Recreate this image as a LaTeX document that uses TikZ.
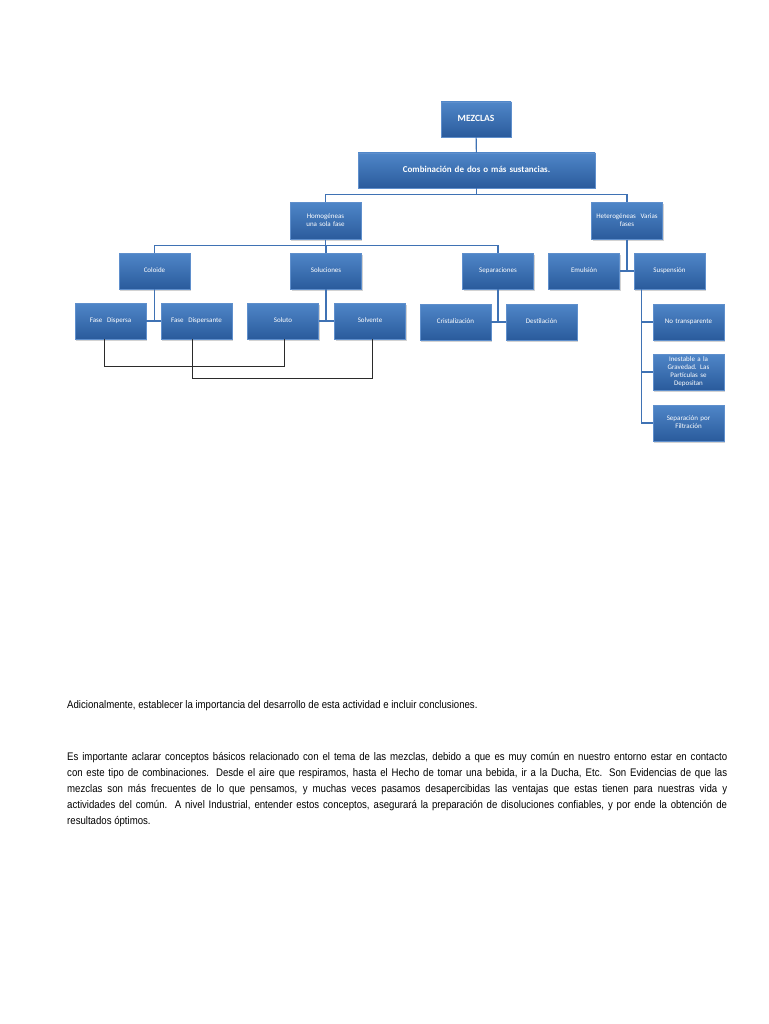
\documentclass[tikz,border=0pt]{standalone}
\usepackage{fontspec}
\setmainfont{Liberation Sans}
\newfontfamily\boxfont{Carlito}
\newfontfamily\narrowfont[FakeStretch=0.875]{Liberation Sans}
\usepackage{tikz}
\usetikzlibrary{shadows}
\definecolor{boxtop}{HTML}{4F86C8}
\definecolor{boxbot}{HTML}{2A5B9C}
\definecolor{boxline}{HTML}{5F8FCC}
\definecolor{linkblue}{HTML}{3F72B4}
\definecolor{linkdark}{HTML}{2B2B2B}
\tikzset{mybox/.style={rectangle, top color=boxtop, bottom color=boxbot, draw=boxline, line width=0.5pt,
    minimum width=71pt, minimum height=36pt, inner sep=1pt, text width=68pt, align=center,
    text=white, font=\boxfont\fontsize{7}{8.4}\selectfont,
    execute at begin node=\strut, execute at end node=\strut,
    drop shadow={opacity=0.35, shadow xshift=1pt, shadow yshift=-1.5pt}},
  link/.style={draw=linkblue, line width=1.1pt},
  crosslink/.style={draw=linkdark, line width=0.8pt},
  textline/.style={anchor=west, inner sep=0pt, font=\narrowfont\fontsize{11}{12}\selectfont}}

\begin{document}
\begin{tikzpicture}[x=1pt, y=-1pt]
    \useasboundingbox[fill=white] (0,0) rectangle (768,1024);

    \node[mybox, minimum width=70pt, minimum height=35pt, font=\boxfont\bfseries\fontsize{9.5}{11}\selectfont] (mezclas) at (476,119.5) {MEZCLAS};
    \node[mybox, minimum width=237pt, minimum height=35pt, text width=230pt, font=\boxfont\bfseries\fontsize{9}{11}\selectfont] (comb) at (476.5,170.5) {Combinación de dos o más sustancias.};
    \node[mybox, minimum height=37pt] (homo)   at (325.5,221) {Homogéneas\\una sola fase};
    \node[mybox, minimum height=37pt] (hetero) at (627,221)   {Heterogéneas\ \ Varias\\fases};

    \node[mybox] (coloide)      at (154.5,271) {Coloide};
    \node[mybox] (soluciones)   at (326,271)   {Soluciones};
    \node[mybox] (separaciones) at (498,271)   {Separaciones};
    \node[mybox] (emulsion)     at (584,271)   {Emulsión};
    \node[mybox] (suspension)   at (669.5,271) {Suspensión};

    \node[mybox] (dispersa)    at (110.5,321) {Fase\ \ Dispersa};
    \node[mybox] (dispersante) at (196.5,321) {Fase\ \ Dispersante};
    \node[mybox] (soluto)      at (283,321)   {Soluto};
    \node[mybox] (solvente)    at (370,321)   {Solvente};
    \node[mybox] (cristal)     at (455.5,322) {Cristalización};
    \node[mybox] (destil)      at (541.5,322) {Destilación};

    \node[mybox] (notrans)   at (688.5,322) {No transparente};
    \node[mybox, font=\boxfont\fontsize{7}{7.9}\selectfont] (inestable) at (688.5,372) {Inestable a la\\Gravedad. Las\\Partículas se\\Depositan};
    \node[mybox] (filtra)    at (688.5,423) {Separación por\\Filtración};

    % arbol principal
    \draw[link] (mezclas) -- (comb);
    \draw[link] (comb.south) -- ++(0,6) -| (homo.north);
    \draw[link] (comb.south) -- ++(0,6) -| (hetero.north);
    \draw[link] (homo.south) -- ++(0,6) -| (coloide.north);
    \draw[link] (homo.south) -- ++(0,6) -| (soluciones.north);
    \draw[link] (homo.south) -- ++(0,6) -| (separaciones.north);
    \draw[link] (hetero.south) |- (emulsion.east);
    \draw[link] (hetero.south) |- (suspension.west);

    % hijos colgantes
    \draw[link] (coloide.south) |- (dispersa.east);
    \draw[link] (coloide.south) |- (dispersante.west);
    \draw[link] (soluciones.south) |- (soluto.east);
    \draw[link] (soluciones.south) |- (solvente.west);
    \draw[link] (separaciones.south) |- (cristal.east);
    \draw[link] (separaciones.south) |- (destil.west);

    \coordinate (susp) at ([xshift=-28pt]suspension.south);
    \draw[link] (susp) |- (notrans.west);
    \draw[link] (susp) |- (inestable.west);
    \draw[link] (susp) |- (filtra.west);

    % enlaces cruzados
    \draw[crosslink] ([xshift=-6pt]dispersa.south) -- ++(0,27) -| ([xshift=1pt]soluto.south);
    \draw[crosslink] ([xshift=-4pt]dispersante.south) -- ++(0,39) -| ([xshift=2pt]solvente.south);

    % texto
    \node[textline] (adic) at (67,706) {Adicionalmente, establecer la importancia del desarrollo de esta actividad e incluir conclusiones.};
    \node[textline] (l1) at (67,758) {\makebox[660pt][s]{Es importante aclarar conceptos básicos relacionado con el tema de las mezclas, debido a que es muy común en nuestro entorno estar en contacto}};
    \node[textline] (l2) at (67,774) {\makebox[660pt][s]{con este tipo de combinaciones. Desde el aire que respiramos, hasta el Hecho de tomar una bebida, ir a la Ducha, Etc. Son Evidencias de que las}};
    \node[textline] (l3) at (67,790) {\makebox[660pt][s]{mezclas son más frecuentes de lo que pensamos, y muchas veces pasamos desapercibidas las ventajas que estas tienen para nuestras vida y}};
    \node[textline] (l4) at (67,806) {\makebox[660pt][s]{actividades del común.\ \ A nivel Industrial, entender estos conceptos, asegurará la preparación de disoluciones confiables, y por ende la obtención de}};
    \node[textline] (l5) at (67,822) {resultados óptimos.};
\end{tikzpicture}
\end{document}
